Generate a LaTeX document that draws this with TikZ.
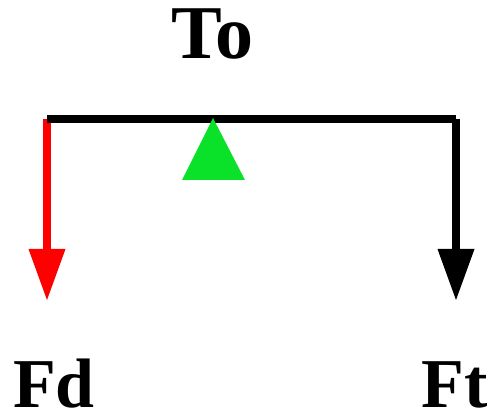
\documentclass[tikz,border=0pt]{standalone}
\usepackage{fontspec}
\setmainfont{Liberation Serif}
\usetikzlibrary{arrows.meta}
\definecolor{pivotgreen}{RGB}{10,226,42}
\begin{document}
\begin{tikzpicture}[x=1pt,y=-1pt,
  lbl/.style={font=\fontsize{70}{70}\selectfont\bfseries, inner sep=0pt, anchor=base},
  beam/.style={line width=8pt},
  force/.style={line width=8pt, -{Triangle[length=51pt,width=37pt,line width=0pt]}}]
\useasboundingbox (0,0) rectangle (496,414);
\coordinate (L) at (47,119);
\coordinate (R) at (456,119);
\coordinate (Ld) at (47,300);
\coordinate (Rd) at (456,300);
\draw[force, red] (L) -- (Ld);
\draw[force, black] (R) -- (Rd);
\draw[beam] (L) -- (R);
\fill[pivotgreen] (213,118) -- (245,180) -- (182,180) -- cycle;
\node[lbl, font=\fontsize{76}{76}\selectfont\bfseries] (To) at (212.5,59) {To};
\node[lbl] (Fd) at (54,408) {Fd};
\node[lbl] (Ft) at (455,408) {Ft};
\end{tikzpicture}
\end{document}
